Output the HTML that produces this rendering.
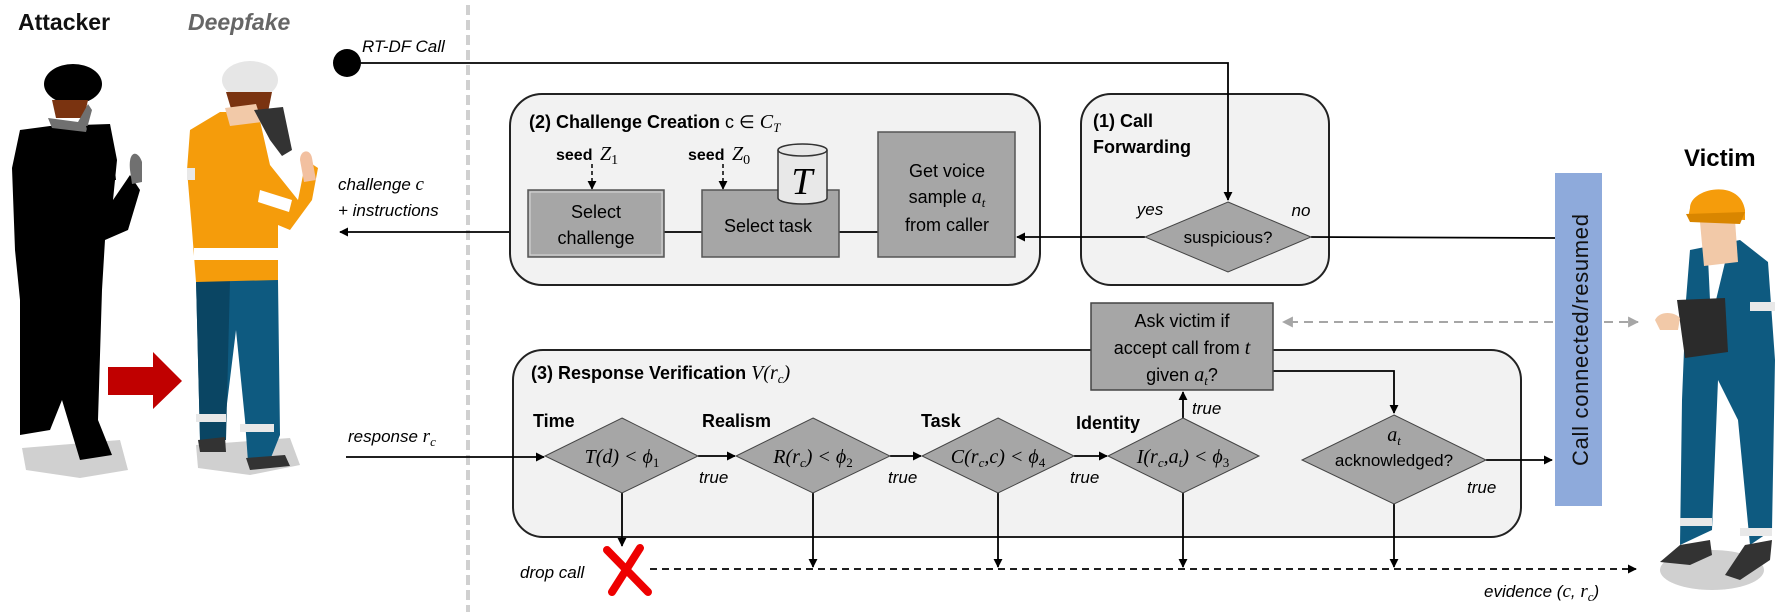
<!DOCTYPE html>
<html><head><meta charset="utf-8"><style>
html,body{margin:0;padding:0;background:#fff;}
svg{display:block;}
.s{font-family:"Liberation Sans",sans-serif;}
.m{font-family:"Liberation Serif",serif;font-style:italic;}
</style></head><body>
<svg width="1784" height="616" viewBox="0 0 1784 616" xmlns="http://www.w3.org/2000/svg">
<defs>
<marker id="ah" viewBox="0 0 10 10" refX="9" refY="5" markerWidth="9" markerHeight="9" orient="auto" markerUnits="userSpaceOnUse"><path d="M0,0 L10,5 L0,10 z" fill="#000"/></marker>
<marker id="ahg" viewBox="0 0 10 10" refX="9" refY="5" markerWidth="11" markerHeight="11" orient="auto" markerUnits="userSpaceOnUse"><path d="M0,0 L10,5 L0,10 z" fill="#a6a6a6"/></marker>
</defs>

<!-- divider -->
<line x1="468" y1="5" x2="468" y2="612" stroke="#d0d0d0" stroke-width="4" stroke-dasharray="10,5"/>

<!-- left labels -->
<text x="18" y="30" class="s" font-weight="bold" font-size="23" fill="#111">Attacker</text>
<text x="188" y="30" class="s" font-weight="bold" font-style="italic" font-size="23" fill="#666">Deepfake</text>

<!-- Attacker figure -->
<path d="M22,448 L120,440 L128,470 L80,478 L26,470 z" fill="#d0d0d0"/>
<path d="M12,168 L20,130 L50,126 L110,124 L117,160 L113,200 L130,175 L140,190 L128,230 L105,240 L102,290 L98,420 L112,455 L80,460 L62,400 L50,430 L20,435 L20,300 L15,250 z" fill="#000"/>
<ellipse cx="73" cy="84" rx="29" ry="20" fill="#000"/>
<path d="M52,100 L88,100 L84,118 L56,118 z" fill="#7a3310"/>
<path d="M48,118 L78,122 L88,104 L92,110 L86,132 L52,128 z" fill="#707070"/>
<path d="M86,126 L110,125 L116,180 L102,180 z" fill="#000"/>
<path d="M130,170 C128,150 138,150 142,162 L142,182 L132,184 z" fill="#707070"/>

<!-- red arrow -->
<path d="M108,367 L153,367 L153,352 L182,381 L153,409 L153,395 L108,395 z" fill="#c00000"/>

<!-- Deepfake figure -->
<path d="M196,445 L290,438 L300,465 L250,475 L198,468 z" fill="#d0d0d0"/>
<path d="M196,280 L278,280 L280,435 L270,460 L248,462 L245,420 L236,330 L225,420 L225,440 L200,440 z" fill="#0e5a80"/>
<path d="M196,280 L230,280 L226,440 L200,440 z" fill="#0a4563"/>
<rect x="196" y="414" width="30" height="8" fill="#e8e8e8"/>
<rect x="240" y="424" width="34" height="8" fill="#e8e8e8"/>
<path d="M198,440 L225,437 L226,452 L200,452 z" fill="#333"/>
<path d="M246,458 L285,455 L290,466 L250,470 z" fill="#333"/>
<path d="M190,130 L220,112 L258,112 L270,165 L298,200 L306,160 L318,168 L312,200 L290,230 L278,225 L278,280 L196,282 L192,230 L187,170 z" fill="#f59c0b"/>
<rect x="194" y="248" width="85" height="12" fill="#fff"/>
<rect x="187" y="168" width="8" height="12" fill="#e8e8e8"/>
<path d="M260,190 L292,200 L289,212 L258,202 z" fill="#fff"/>
<path d="M300,160 C300,150 310,148 312,158 L316,180 L304,182 z" fill="#f2c0a0"/>
<ellipse cx="250" cy="80" rx="28" ry="19" fill="#e6e6e6"/>
<path d="M226,92 L272,92 L268,112 L232,112 z" fill="#7a3310"/>
<path d="M225,108 L256,104 L262,122 L230,126 z" fill="#f2c9a8"/>
<path d="M254,110 L283,107 L292,150 L282,156 L270,140 z" fill="#333"/>

<!-- RT-DF call -->
<circle cx="347" cy="63" r="14" fill="#000"/>
<text x="362" y="52" class="s" font-style="italic" font-size="17">RT-DF Call</text>

<!-- challenge text -->
<text x="338" y="190" class="s" font-style="italic" font-size="17">challenge <tspan class="m" font-size="19">c</tspan></text>
<text x="338" y="216" class="s" font-style="italic" font-size="17">+ instructions</text>
<line x1="528" y1="232" x2="340" y2="232" stroke="#000" stroke-width="1.8" marker-end="url(#ah)"/>

<!-- Box 2 -->
<rect x="510" y="94" width="530" height="191" rx="32" fill="#f2f2f2" stroke="#222" stroke-width="2"/>
<text x="529" y="128" class="s" font-weight="bold" font-size="18">(2) Challenge Creation <tspan font-weight="normal">c ∈ </tspan><tspan class="m" font-weight="normal" font-size="20">C</tspan><tspan class="m" font-weight="normal" font-size="13" dy="4">T</tspan></text>
<text x="556" y="160" class="s" font-weight="bold" font-size="16">seed</text>
<text x="600" y="160" class="m" font-size="20">Z<tspan font-size="14" font-style="normal" dy="4">1</tspan></text>
<line x1="592" y1="164" x2="592" y2="189" stroke="#000" stroke-width="1.5" stroke-dasharray="4,3" marker-end="url(#ah)"/>
<text x="688" y="160" class="s" font-weight="bold" font-size="16">seed</text>
<text x="732" y="160" class="m" font-size="20">Z<tspan font-size="14" font-style="normal" dy="4">0</tspan></text>
<line x1="723" y1="164" x2="723" y2="189" stroke="#000" stroke-width="1.5" stroke-dasharray="4,3" marker-end="url(#ah)"/>
<line x1="664" y1="232" x2="702" y2="232" stroke="#000" stroke-width="1.8"/>
<line x1="839" y1="232" x2="878" y2="232" stroke="#000" stroke-width="1.8"/>
<rect x="528" y="190" width="136" height="67" fill="#a6a6a6" stroke="#555" stroke-width="1.5"/>
<rect x="530" y="192" width="132" height="63" fill="none" stroke="#d9d9d9" stroke-width="1"/>
<text x="596" y="218" text-anchor="middle" class="s" font-size="18">Select</text>
<text x="596" y="244" text-anchor="middle" class="s" font-size="18">challenge</text>
<rect x="702" y="190" width="137" height="67" fill="#a6a6a6" stroke="#555" stroke-width="1.5"/>
<text x="768" y="232" text-anchor="middle" class="s" font-size="18">Select task</text>
<rect x="878" y="132" width="137" height="125" fill="#a6a6a6" stroke="#555" stroke-width="1.5"/>
<text x="947" y="177" text-anchor="middle" class="s" font-size="18">Get voice</text>
<text x="947" y="203" text-anchor="middle" class="s" font-size="18">sample <tspan class="m" font-size="20">a</tspan><tspan class="m" font-size="13" dy="4">t</tspan></text>
<text x="947" y="231" text-anchor="middle" class="s" font-size="18">from caller</text>
<!-- cylinder -->
<path d="M778,150 L778,198 A24.5,6 0 0 0 827,198 L827,150" fill="#e8e8e8" stroke="#333" stroke-width="1.5"/>
<ellipse cx="802.5" cy="150" rx="24.5" ry="6" fill="#e8e8e8" stroke="#333" stroke-width="1.5"/>
<text x="802" y="194" text-anchor="middle" class="m" font-size="38">T</text>

<!-- Box 1 -->
<rect x="1081" y="94" width="248" height="191" rx="30" fill="#f2f2f2" stroke="#222" stroke-width="2"/>
<text x="1093" y="127" class="s" font-weight="bold" font-size="18">(1) Call</text>
<text x="1093" y="153" class="s" font-weight="bold" font-size="18">Forwarding</text>
<polyline points="361,63 1228,63 1228,200" fill="none" stroke="#000" stroke-width="1.8" marker-end="url(#ah)"/>
<line x1="1145" y1="237" x2="1017" y2="237" stroke="#000" stroke-width="1.8" marker-end="url(#ah)"/>
<line x1="1311" y1="237" x2="1555" y2="238" stroke="#000" stroke-width="1.8"/>
<polygon points="1228,202 1311,237 1228,272 1145,237" fill="#a6a6a6" stroke="#444" stroke-width="1"/>
<text x="1228" y="243" text-anchor="middle" class="s" font-size="17">suspicious?</text>
<text x="1150" y="215" text-anchor="middle" class="s" font-style="italic" font-size="17">yes</text>
<text x="1301" y="216" text-anchor="middle" class="s" font-style="italic" font-size="17">no</text>

<!-- Box 3 -->
<rect x="513" y="350" width="1008" height="187" rx="30" fill="#f2f2f2" stroke="#222" stroke-width="2"/>
<text x="531" y="379" class="s" font-weight="bold" font-size="18">(3) Response Verification <tspan class="m" font-weight="normal" font-size="20">V</tspan><tspan class="m" font-weight="normal" font-size="20">(r</tspan><tspan class="m" font-weight="normal" font-size="13" dy="4">c</tspan><tspan class="m" font-weight="normal" font-size="20" dy="-4">)</tspan></text>

<!-- response line -->
<text x="348" y="442" class="s" font-style="italic" font-size="17">response <tspan class="m" font-size="19">r</tspan><tspan class="m" font-size="13" dy="4">c</tspan></text>
<line x1="346" y1="457" x2="544" y2="457" stroke="#000" stroke-width="1.8" marker-end="url(#ah)"/>
<line x1="698" y1="456" x2="735" y2="456" stroke="#000" stroke-width="1.8" marker-end="url(#ah)"/>
<line x1="890" y1="456" x2="921" y2="456" stroke="#000" stroke-width="1.8" marker-end="url(#ah)"/>
<line x1="1074" y1="456" x2="1107" y2="456" stroke="#000" stroke-width="1.8" marker-end="url(#ah)"/>

<!-- down lines -->
<line x1="622" y1="493" x2="622" y2="546" stroke="#000" stroke-width="1.8" marker-end="url(#ah)"/>
<line x1="813" y1="493" x2="813" y2="567" stroke="#000" stroke-width="1.8" marker-end="url(#ah)"/>
<line x1="998" y1="493" x2="998" y2="567" stroke="#000" stroke-width="1.8" marker-end="url(#ah)"/>
<line x1="1183" y1="493" x2="1183" y2="567" stroke="#000" stroke-width="1.8" marker-end="url(#ah)"/>
<line x1="1394" y1="504" x2="1394" y2="567" stroke="#000" stroke-width="1.8" marker-end="url(#ah)"/>
<line x1="1183" y1="418" x2="1183" y2="392" stroke="#000" stroke-width="1.8" marker-end="url(#ah)"/>
<polyline points="1273,371 1394,371 1394,413" fill="none" stroke="#000" stroke-width="1.8" marker-end="url(#ah)"/>
<line x1="1486" y1="460" x2="1552" y2="460" stroke="#000" stroke-width="1.8" marker-end="url(#ah)"/>

<!-- diamonds -->
<polygon points="622,418 698,456 622,493 545,456" fill="#a6a6a6" stroke="#444" stroke-width="1"/>
<text x="622" y="463" text-anchor="middle" class="m" font-size="20">T(d) &lt; ϕ<tspan font-size="13" font-style="normal" dy="4">1</tspan></text>
<polygon points="813,418 890,456 813,493 736,456" fill="#a6a6a6" stroke="#444" stroke-width="1"/>
<text x="813" y="463" text-anchor="middle" class="m" font-size="20">R(r<tspan font-size="13" dy="4">c</tspan><tspan dy="-4">) &lt; ϕ</tspan><tspan font-size="13" font-style="normal" dy="4">2</tspan></text>
<polygon points="998,418 1074,456 998,493 922,456" fill="#a6a6a6" stroke="#444" stroke-width="1"/>
<text x="998" y="463" text-anchor="middle" class="m" font-size="20">C(r<tspan font-size="13" dy="4">c</tspan><tspan dy="-4">,c) &lt; ϕ</tspan><tspan font-size="13" font-style="normal" dy="4">4</tspan></text>
<polygon points="1183,418 1259,456 1183,493 1108,456" fill="#a6a6a6" stroke="#444" stroke-width="1"/>
<text x="1183" y="463" text-anchor="middle" class="m" font-size="20">I(r<tspan font-size="13" dy="4">c</tspan><tspan dy="-4">,a</tspan><tspan font-size="13" dy="4">t</tspan><tspan dy="-4">) &lt; ϕ</tspan><tspan font-size="13" font-style="normal" dy="4">3</tspan></text>
<polygon points="1394,415 1486,460 1394,504 1302,460" fill="#a6a6a6" stroke="#444" stroke-width="1"/>
<text x="1394" y="441" text-anchor="middle" class="m" font-size="20">a<tspan font-size="13" dy="4">t</tspan></text>
<text x="1394" y="466" text-anchor="middle" class="s" font-size="17">acknowledged?</text>

<text x="533" y="427" class="s" font-weight="bold" font-size="18">Time</text>
<text x="702" y="427" class="s" font-weight="bold" font-size="18">Realism</text>
<text x="921" y="427" class="s" font-weight="bold" font-size="18">Task</text>
<text x="1076" y="429" class="s" font-weight="bold" font-size="18">Identity</text>
<text x="699" y="483" class="s" font-style="italic" font-size="17">true</text>
<text x="888" y="483" class="s" font-style="italic" font-size="17">true</text>
<text x="1070" y="483" class="s" font-style="italic" font-size="17">true</text>
<text x="1192" y="414" class="s" font-style="italic" font-size="17">true</text>
<text x="1467" y="493" class="s" font-style="italic" font-size="17">true</text>

<!-- Ask victim box -->
<rect x="1091" y="303" width="182" height="87" fill="#a6a6a6" stroke="#444" stroke-width="1.5"/>
<text x="1182" y="327" text-anchor="middle" class="s" font-size="18">Ask victim if</text>
<text x="1182" y="354" text-anchor="middle" class="s" font-size="18">accept call from <tspan class="m" font-size="20">t</tspan></text>
<text x="1182" y="381" text-anchor="middle" class="s" font-size="18">given <tspan class="m" font-size="20">a</tspan><tspan class="m" font-size="13" dy="4">t</tspan><tspan dy="-4">?</tspan></text>

<!-- gray dashed -->
<line x1="1553" y1="322" x2="1283" y2="322" stroke="#a6a6a6" stroke-width="2" stroke-dasharray="9,6" marker-end="url(#ahg)"/>
<line x1="1604" y1="322" x2="1638" y2="322" stroke="#a6a6a6" stroke-width="2" stroke-dasharray="9,6" marker-end="url(#ahg)"/>

<!-- blue bar -->
<rect x="1555" y="173" width="47" height="333" fill="#8eaadb"/>
<text transform="translate(1588,340) rotate(-90)" text-anchor="middle" class="s" font-size="22" fill="#111" textLength="252">Call connected/resumed</text>

<!-- drop call / evidence -->
<text x="520" y="578" class="s" font-style="italic" font-size="17">drop call</text>
<path d="M607,550 L648,592 M640,548 L612,592" stroke="#e00" stroke-width="8" stroke-linecap="round"/>
<line x1="650" y1="569" x2="1636" y2="569" stroke="#000" stroke-width="1.8" stroke-dasharray="7,5" marker-end="url(#ah)"/>
<text x="1484" y="597" class="s" font-style="italic" font-size="17">evidence (<tspan class="m" font-size="19">c</tspan>, <tspan class="m" font-size="19">r</tspan><tspan class="m" font-size="13" dy="4">c</tspan><tspan dy="-4">)</tspan></text>

<!-- Victim -->
<text x="1684" y="166" class="s" font-weight="bold" font-size="24">Victim</text>
<ellipse cx="1712" cy="570" rx="52" ry="20" fill="#d0d0d0"/>
<path d="M1690,250 L1740,240 L1768,262 L1775,360 L1772,530 L1750,545 L1738,420 L1718,380 L1712,530 L1680,545 L1682,400 L1686,300 z" fill="#0e5a80"/>
<path d="M1708,258 L1728,250 L1716,300 L1710,300 z" fill="#fff"/>
<rect x="1680" y="518" width="32" height="8" fill="#e8e8e8"/>
<rect x="1740" y="528" width="32" height="8" fill="#e8e8e8"/>
<rect x="1750" y="302" width="25" height="9" fill="#e8e8e8"/>
<path d="M1677,300 L1725,298 L1728,352 L1685,358 z" fill="#2b2b2b"/>
<path d="M1655,320 C1660,310 1675,312 1680,318 L1678,330 L1660,330 z" fill="#f2c9a8"/>
<path d="M1680,545 L1710,540 L1712,555 L1690,565 L1660,562 z" fill="#333"/>
<path d="M1745,545 L1772,540 L1770,560 L1740,580 L1725,575 z" fill="#333"/>
<path d="M1700,222 L1735,220 L1738,262 L1704,266 z" fill="#f2c9a8"/>
<path d="M1690,208 C1690,188 1740,178 1745,210 L1745,220 L1688,218 z" fill="#f59c0b"/>
<path d="M1686,214 L1745,212 L1740,224 L1690,222 z" fill="#d98600"/>
</svg>
</body></html>
